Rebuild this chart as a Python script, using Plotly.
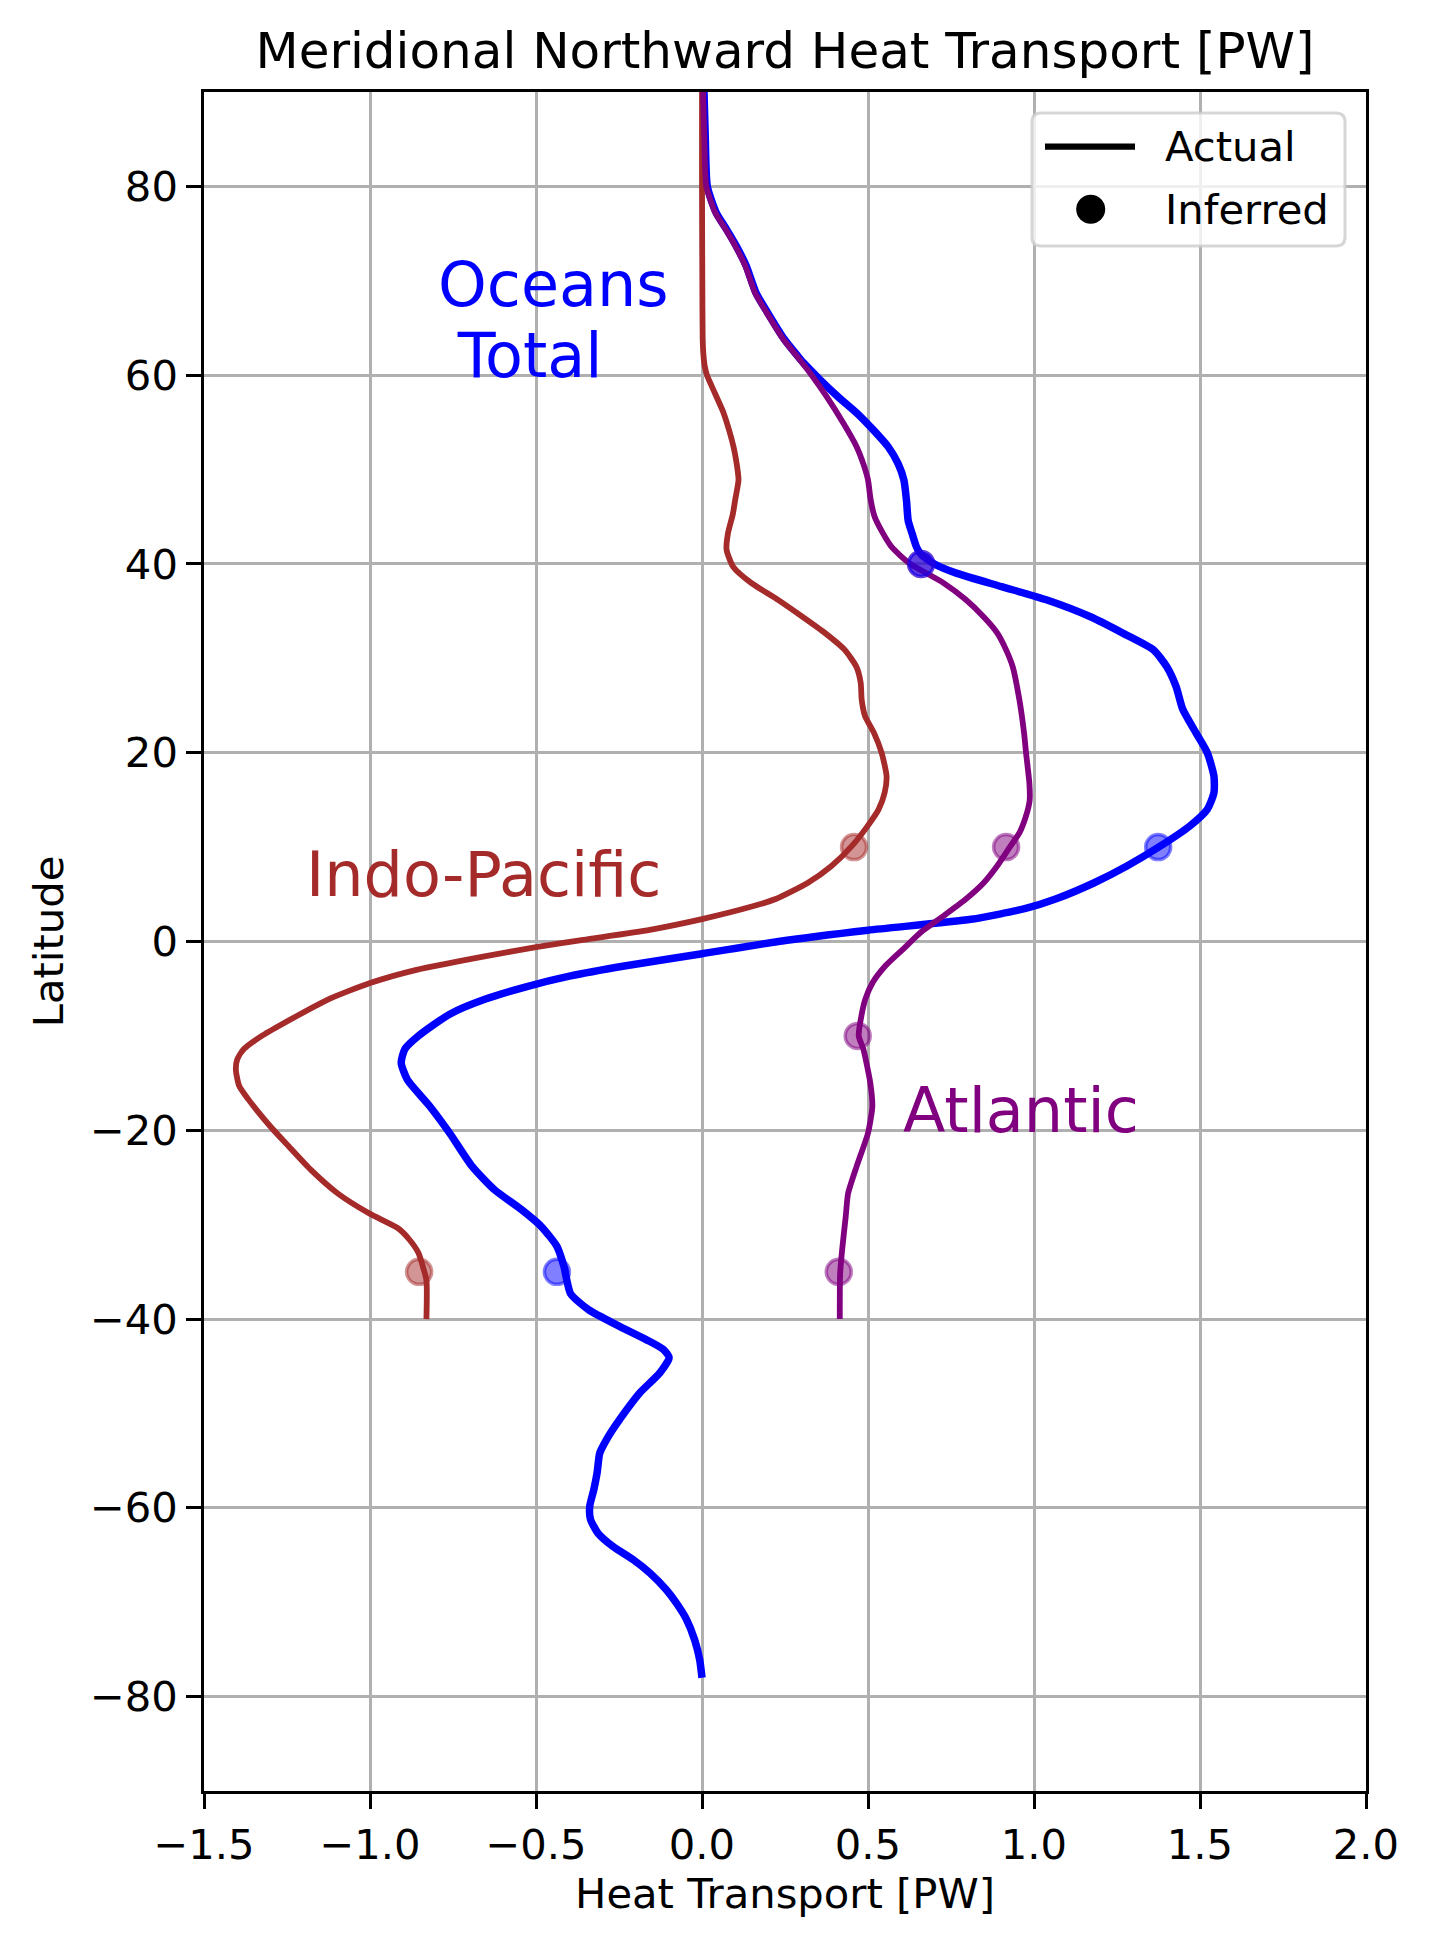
import plotly.graph_objects as go

# ---------------- data ----------------
# Global ocean (Oceans Total), actual transport [PW] vs latitude
global_lat = [90, 85, 80, 77.2, 75.5, 73.7, 71.6, 68.7, 66.6, 63.8, 62, 61.3, 59.5, 57.7, 56, 54.2,
              52.4, 50.6, 48.9, 46.7, 44.6, 43.2, 41.8, 41, 40, 39, 37.6, 36.2, 34.4, 32.7, 30.9,
              29.1, 27, 24.6, 22.1, 20, 17.5, 15.75, 14, 12.2, 10.1, 8, 6.2, 4.5, 3.5, 2.35, 1.2,
              0, -1.3, -2.6, -3.65, -4.8, -6.1, -7.7, -10, -11.4, -12.85, -14.6, -17.45,
              -20.3, -23.8, -26.3, -28.4, -30.2, -32.3, -34.4, -37.3, -39, -40.8, -42.2, -43.2,
              -44.1, -45.7, -47.8, -49.6, -51.4, -52.8, -54.2, -56.3, -58.1, -59.8, -61.2, -62.7,
              -64.1, -65.5, -66.9, -68.7, -70.1, -71.8, -74, -76.1, -78]
global_ht = [0.006, 0.01, 0.016, 0.043, 0.073, 0.103, 0.133, 0.163, 0.198, 0.248, 0.289, 0.306,
             0.356, 0.41, 0.466, 0.516, 0.561, 0.591, 0.608, 0.616, 0.621, 0.633, 0.646, 0.66,
             0.70, 0.768, 0.902, 1.037, 1.17, 1.266, 1.36, 1.40, 1.428, 1.448, 1.488, 1.522,
             1.542, 1.542, 1.522, 1.468, 1.38, 1.28, 1.18, 1.065, 0.975, 0.81, 0.5, 0.23,
             0.0, -0.234, -0.396, -0.53, -0.652, -0.76, -0.854, -0.895, -0.906, -0.888, -0.82,
             -0.76, -0.693, -0.625, -0.544, -0.484, -0.437, -0.416, -0.396, -0.342, -0.247,
             -0.167, -0.117, -0.099, -0.127, -0.187, -0.227, -0.263, -0.288, -0.308, -0.316,
             -0.326, -0.338, -0.336, -0.313, -0.268, -0.207, -0.157, -0.107, -0.077, -0.047,
             -0.022, -0.007, 0.0]

# Atlantic, actual transport
atl_lat = [90, 85, 80, 77.2, 75.5, 73.7, 71.6, 68.7, 66.6, 63.8, 62, 60.2, 57.7, 54.9, 52.4, 50.6,
           48.9, 46.8, 45, 43.5, 41.8, 40, 38, 36.2, 34.4, 32.7, 30.9, 29.1, 25.6, 22.1, 20, 16.8,
           15, 13.3, 11.5, 10.1, 8, 6.2, 4.5, 2.7, 1, -0.8, -2.6, -4.3, -6.1, -7.9, -10, -11.4,
           -15, -17.5, -20.3, -23.8, -26.7, -29.1, -32.7, -35.2, -40]
atl_ht = [0.003, 0.007, 0.013, 0.04, 0.07, 0.10, 0.13, 0.16, 0.195, 0.245, 0.286, 0.326, 0.376,
          0.426, 0.466, 0.486, 0.50, 0.508, 0.52, 0.541, 0.571, 0.627, 0.727, 0.795, 0.848, 0.889,
          0.916, 0.936, 0.956, 0.97, 0.976, 0.986, 0.987, 0.976, 0.956, 0.929, 0.889, 0.848,
          0.795, 0.727, 0.66, 0.606, 0.552, 0.515, 0.492, 0.48, 0.472, 0.486, 0.507, 0.513, 0.5,
          0.466, 0.44, 0.433, 0.422, 0.416, 0.415]

# Indo-Pacific, actual transport
ip_lat = [90, 80, 70, 64, 62.3, 61, 60, 58, 56, 54, 52.4, 50.5, 48.9, 46.8, 45.3, 43.2, 41.5,
          39.7, 38, 36.2, 34.4, 32.7, 30.9, 29.1, 27.4, 25.6, 23.9, 22.1, 20, 17.5, 15.75, 14,
          12.2, 10.1, 8, 6.2, 4.5, 3.7, 2.37, 1.24, 0.18, -0.6, -1.6, -3.0, -4.4, -6.2, -8.66,
          -10, -11.4, -12.5, -13.6, -15.3, -16.7, -19.6, -21.7, -24.2, -26.7, -28.8, -30.4,
          -31.6, -33, -34.4, -35.9, -40]
ip_ht = [0.0, 0.0, 0.001, 0.002, 0.004, 0.008, 0.015, 0.04, 0.065, 0.083, 0.095, 0.105, 0.11,
         0.10, 0.093, 0.078, 0.074, 0.094, 0.148, 0.229, 0.303, 0.37, 0.43, 0.465, 0.478, 0.481,
         0.491, 0.518, 0.541, 0.556, 0.55, 0.532, 0.498, 0.451, 0.39, 0.318, 0.222, 0.15, 0.0,
         -0.157, -0.358, -0.5, -0.659, -0.86, -1.0, -1.13, -1.26, -1.326, -1.38, -1.40, -1.404,
         -1.394, -1.367, -1.30, -1.245, -1.178, -1.097, -1.003, -0.915, -0.881, -0.854, -0.841,
         -0.83, -0.83]

# Inferred values
global_inf_lat = [40, 10, -35]
global_inf = [0.66, 1.374, -0.437]
atl_inf_lat = [40, 10, -10, -35]
atl_inf = [0.66, 0.916, 0.469, 0.412]
ip_inf_lat = [10, -35]
ip_inf = [0.458, -0.852]

x_ticks = [-1.5, -1.0, -0.5, 0.0, 0.5, 1.0, 1.5, 2.0]
x_ticktext = ["\u22121.5", "\u22121.0", "\u22120.5", "0.0", "0.5", "1.0", "1.5", "2.0"]
y_ticks = [-80, -60, -40, -20, 0, 20, 40, 60, 80]
y_ticktext = ["\u221280", "\u221260", "\u221240", "\u221220", "0", "20", "40", "60", "80"]

# ---------------- styling ----------------
BLUE = "#0000ff"
BROWN = "#a52a2a"
PURPLE = "#800080"
FONT = "DejaVu Sans"

OFF = 8  # default page body margin
PAGE_W, PAGE_H = 1429, 1947
W, H = PAGE_W - OFF, PAGE_H - 2 * OFF
# plot area in page pixels
PL, PR, PT, PB = 204, 1366, 92, 1791
L, R, T, B = PL - OFF, PR - OFF, PT - OFF, PB - OFF  # figure pixels


def px_x(px):  # page px -> paper x
    return (px - PL) / (PR - PL)


def px_y(py):  # page py -> paper y
    return (PB - py) / (PB - PT)


fig = go.Figure()

line_shape = dict(shape="spline", smoothing=0.6)
fig.add_trace(go.Scatter(x=global_ht, y=global_lat, mode="lines",
                         line=dict(color=BLUE, width=7.5, **line_shape), name="Global"))
fig.add_trace(go.Scatter(x=ip_ht, y=ip_lat, mode="lines",
                         line=dict(color=BROWN, width=5.8, **line_shape), name="Indo-Pacific"))
fig.add_trace(go.Scatter(x=atl_ht, y=atl_lat, mode="lines",
                         line=dict(color=PURPLE, width=5.8, **line_shape), name="Atlantic"))


def inferred(xv, yv, rgb):
    return go.Scatter(x=xv, y=yv, mode="markers",
                      marker=dict(size=25, color=f"rgba({rgb},0.5)",
                                  line=dict(color=f"rgba({rgb},0.5)", width=3.5)),
                      showlegend=False)


fig.add_trace(inferred(ip_inf, ip_inf_lat, "165,42,42"))
fig.add_trace(inferred(atl_inf, atl_inf_lat, "128,0,128"))
fig.add_trace(inferred(global_inf, global_inf_lat, "0,0,255"))

axis_common = dict(
    showgrid=True, gridcolor="#b0b0b0", gridwidth=3,
    showline=True, linecolor="black", linewidth=3.3, mirror=True,
    ticks="outside", ticklen=14.6, tickwidth=3.3, tickcolor="black",
    zeroline=False,
    tickfont=dict(family=FONT, size=41.7, color="black"),
)

fig.update_layout(
    width=W, height=H,
    margin=dict(l=L, r=W - R, t=T, b=H - B, autoexpand=False),
    plot_bgcolor="white", paper_bgcolor="white",
    showlegend=False,
    font=dict(family=FONT, size=41.7, color="black"),
    title=dict(text="Meridional Northward Heat Transport [PW]",
               font=dict(family=FONT, size=50, color="black"),
               x=px_x(785), xref="paper", xanchor="center",
               y=1 - (68 - OFF) / H, yref="container", yanchor="bottom"),
    xaxis=dict(range=[-1.5, 2.0], tickvals=x_ticks, ticktext=x_ticktext,
               title=dict(text="Heat Transport [PW]", standoff=10,
                          font=dict(family=FONT, size=41.7, color="black")),
               **axis_common),
    yaxis=dict(range=[-90, 90], tickvals=y_ticks, ticktext=y_ticktext,
               title=dict(text="Latitude", standoff=14,
                          font=dict(family=FONT, size=41.7, color="black")),
               **axis_common),
)

# ---------- region labels ----------
LBL = 62
desc_shift = -19
fig.add_annotation(x=-0.8, y=60, xref="x", yref="y", text="Oceans", showarrow=False,
                   xanchor="left", yanchor="bottom", yshift=desc_shift + 71,
                   font=dict(family=FONT, size=LBL, color=BLUE))
fig.add_annotation(x=-0.8, y=60, xref="x", yref="y", text="\u00a0Total", showarrow=False,
                   xanchor="left", yanchor="bottom", yshift=desc_shift,
                   font=dict(family=FONT, size=LBL, color=BLUE))
fig.add_annotation(x=-1.2, y=5, xref="x", yref="y", text="Indo-Pacific", showarrow=False,
                   xanchor="left", yanchor="bottom", yshift=desc_shift,
                   font=dict(family=FONT, size=LBL, color=BROWN))
fig.add_annotation(x=0.6, y=-20, xref="x", yref="y", text="Atlantic", showarrow=False,
                   xanchor="left", yanchor="bottom", yshift=desc_shift,
                   font=dict(family=FONT, size=LBL, color=PURPLE))

# ---------- legend (drawn like matplotlib's) ----------
bx0, bx1, by0, by1 = px_x(1032), px_x(1345), px_y(113), px_y(246)
rx, ry = 9 / (PR - PL), 9 / (PB - PT)
path = (f"M {bx0 + rx},{by0} L {bx1 - rx},{by0} Q {bx1},{by0} {bx1},{by0 - ry} "
        f"L {bx1},{by1 + ry} Q {bx1},{by1} {bx1 - rx},{by1} "
        f"L {bx0 + rx},{by1} Q {bx0},{by1} {bx0},{by1 + ry} "
        f"L {bx0},{by0 - ry} Q {bx0},{by0} {bx0 + rx},{by0} Z")
fig.add_shape(type="path", path=path, xref="paper", yref="paper",
              fillcolor="rgba(255,255,255,0.8)", line=dict(color="rgba(204,204,204,0.8)", width=3),
              layer="above")
fig.add_shape(type="line", xref="paper", yref="paper",
              x0=px_x(1045), x1=px_x(1135), y0=px_y(146.7), y1=px_y(146.7),
              line=dict(color="black", width=6.25), layer="above")
fig.add_shape(type="circle", xref="paper", yref="paper",
              x0=px_x(1076.2), x1=px_x(1105.2), y0=px_y(223.8), y1=px_y(194.8),
              fillcolor="black", line=dict(width=0), layer="above")
for txt, yy in (("Actual", 146.7), ("Inferred", 209.3)):
    fig.add_annotation(x=px_x(1163), y=px_y(yy), xref="paper", yref="paper", text=txt,
                       showarrow=False, xanchor="left", yanchor="middle",
                       font=dict(family=FONT, size=41.7, color="black"))

fig.write_html("out.html")
